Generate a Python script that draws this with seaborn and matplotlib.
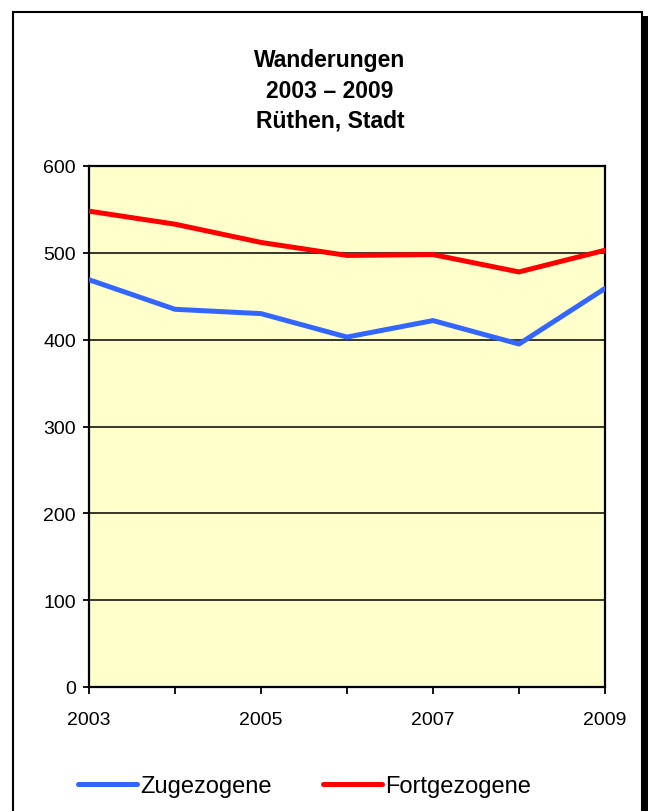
import matplotlib
matplotlib.use("Agg")
import matplotlib.pyplot as plt
from matplotlib.patches import Rectangle
import seaborn as sns
import pandas as pd

years = [2003, 2004, 2005, 2006, 2007, 2008, 2009]
zugezogene = [469, 435, 430, 403, 422, 395, 459]
fortgezogene = [548, 533, 512, 497, 498, 478, 503]
series_names = ["Zugezogene", "Fortgezogene"]
series_colors = ["#3366FF", "#FF0000"]
title_text = "Wanderungen\n2003 \u2013 2009\nR\u00fcthen, Stadt"
y_ticks = [0, 100, 200, 300, 400, 500, 600]
x_label_years = [2003, 2005, 2007, 2009]

df = pd.DataFrame({
    "Jahr": years * 2,
    "Wert": zugezogene + fortgezogene,
    "Serie": [series_names[0]] * len(years) + [series_names[1]] * len(years),
})

sns.set_theme(style="white")
plt.rcParams["font.family"] = ["Liberation Sans", "DejaVu Sans"]
plt.rcParams["text.color"] = "black"
plt.rcParams["axes.labelcolor"] = "black"
plt.rcParams["xtick.color"] = "black"
plt.rcParams["ytick.color"] = "black"

W, H = 648, 812
fig = plt.figure(figsize=(W / 100, H / 100), dpi=100)
fig.patch.set_facecolor("white")

left, right, top, bottom = 89, 605, 167, 688
ax = fig.add_axes([left / W, 1 - bottom / H, (right - left) / W, (bottom - top) / H])
ax.set_facecolor("#FFFFCC")

sns.lineplot(data=df, x="Jahr", y="Wert", hue="Serie", hue_order=series_names,
             palette=series_colors, linewidth=3.6, ax=ax, legend=True, zorder=3)

ax.set_xlim(years[0], years[-1])
ax.set_ylim(0, 600)
ax.set_yticks(y_ticks)
ax.set_yticklabels([str(v) for v in y_ticks])
ax.set_xticks(years)
ax.set_xticklabels([str(y) if y in x_label_years else "" for y in years])
ax.set_xlabel("")
ax.set_ylabel("")

for yv in y_ticks[1:-1]:
    ax.axhline(yv, color="black", linewidth=1.1, zorder=1)

for sp in ax.spines.values():
    sp.set_visible(True)
    sp.set_color("black")
    sp.set_linewidth(1.6)

ax.tick_params(axis="y", which="major", direction="out", length=4.5, width=1.3,
               color="black", labelcolor="black", labelsize=14, pad=5, left=True)
ax.tick_params(axis="x", which="major", direction="out", length=5, width=1.3,
               color="black", labelcolor="black", labelsize=14, pad=12, bottom=True)

handles, labels = ax.get_legend_handles_labels()
ax.get_legend().remove()
for h in handles:
    h.set_linewidth(3.6)
leg = fig.legend(handles, labels, loc="center left", bbox_to_anchor=(78 / W, 1 - 787 / H),
                 ncol=2, frameon=False, fontsize=17, handlelength=2.5, handletextpad=0.12,
                 columnspacing=2.2, borderpad=0, borderaxespad=0)
for t in leg.get_texts():
    t.set_color("black")

fig.text(330 / W, 1 - 91 / H, title_text, ha="center", va="center", color="black",
         fontsize=16.5, fontweight="bold", linespacing=1.4)

# outer frame with shadow
fig.add_artist(Rectangle((13 / W, -0.05), (642 - 13) / W, 1.05 - 12.5 / H,
                         transform=fig.transFigure, fill=False, edgecolor="black",
                         linewidth=1.5, zorder=10))
fig.add_artist(Rectangle((642 / W, -0.05), 8 / W, 1.05 - 17 / H,
                         transform=fig.transFigure, facecolor="black", edgecolor="none",
                         zorder=10))

fig.savefig("out.png", dpi=100)
